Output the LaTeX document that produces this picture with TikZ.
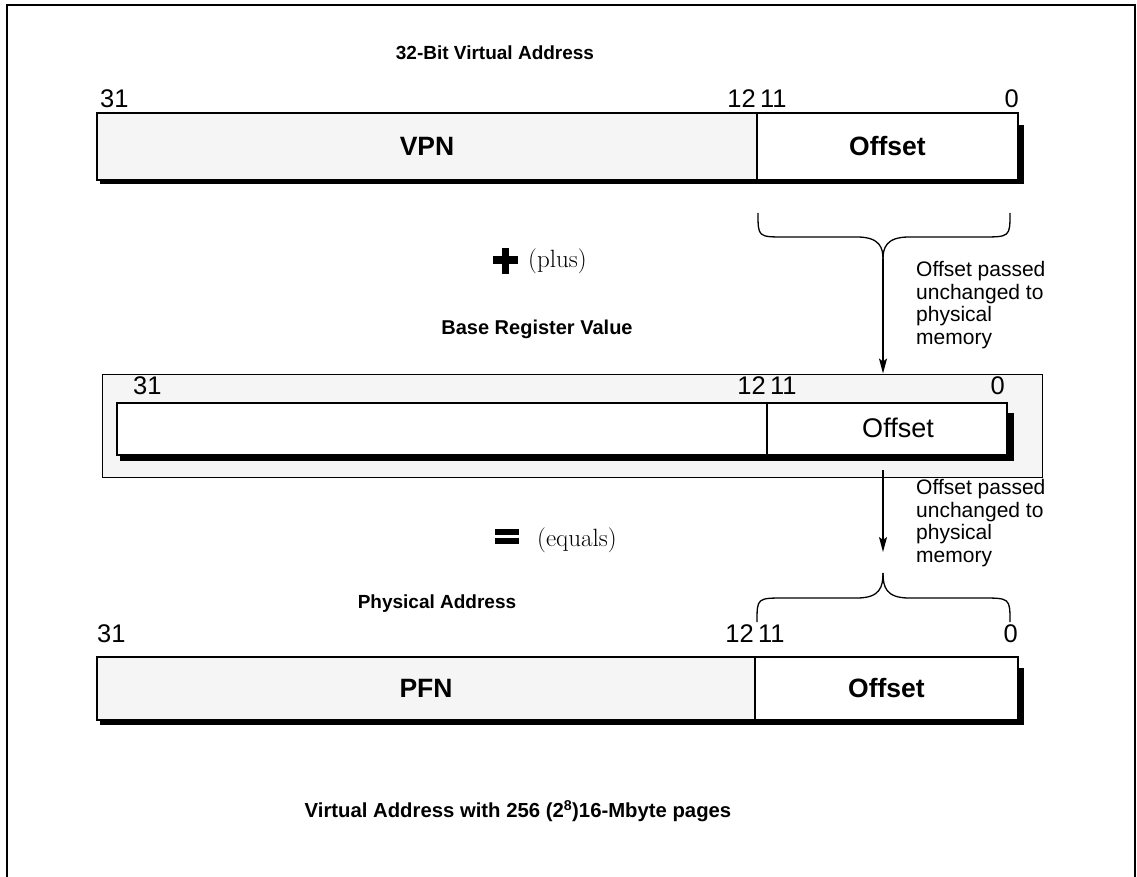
\documentclass[tikz,border=0pt]{standalone}
\usepackage{fontspec}
\newfontfamily\hv{Liberation Sans}
\usetikzlibrary{arrows.meta}

\tikzset{
  field/.style={draw=black, line width=1.1pt, inner sep=0pt, outer sep=0pt,
                font=\hv\bfseries\fontsize{26.5}{31}\selectfont},
  shaded/.style={fill=black!4},
  blank/.style={fill=white},
  plainlabel/.style={font=\hv\fontsize{27}{31}\selectfont},
  bitnum/.style={font=\hv\fontsize{25.5}{29}\selectfont, inner sep=0pt},
  heading/.style={font=\hv\bfseries\fontsize{19}{23}\selectfont, inner sep=0pt},
  note/.style={font=\hv\fontsize{21}{22.7}\selectfont, align=left,
               inner sep=0pt, anchor=north west},
  opword/.style={font=\fontsize{25}{30}\selectfont, inner sep=0pt, anchor=base west},
  brace/.style={line width=1.3pt},
  flow/.style={line width=1.3pt, -{Stealth[length=15pt,width=8pt,inset=3pt]}},
  shadow/.style={fill=black},
  frame/.style={line width=2pt},
}

\begin{document}
\begin{tikzpicture}[x=1pt,y=-1pt]
\useasboundingbox (0,0) rectangle (1137,877);

% page frame, open at the bottom
\draw[frame] (7,877) -- (7,5) -- (1135,5) -- (1135,877);

% ---------- 32-bit virtual address ----------
\node[heading] (vtitle) at (495,53) {32-Bit Virtual Address};
\fill[shadow] (100,125) rectangle (1024,184);
\node[field,shaded,minimum width=660pt,minimum height=67pt] (vpn) at (427,146.5) {VPN};
\node[field,blank,minimum width=261pt,minimum height=67pt] (voff) at (887.5,146.5) {Offset};
\node[bitnum,anchor=base west] (v31) at (100,108) {31};
\node[bitnum,anchor=base] (v1211) at (757,108) {12\,11};
\node[bitnum,anchor=base east] (v0) at (1019,108) {0};

% brace under the offset field
\coordinate (tipA) at (883,259);
\draw[brace] (758,213) .. controls (758,237) .. (785,237) -- (857,237)
  .. controls (880,237) and (883,248) .. (tipA);
\draw[brace] (1010,213) .. controls (1010,237) .. (981,237) -- (909,237)
  .. controls (886,237) and (883,248) .. (tipA);

% plus sign
\fill (493,256) rectangle (518,264);
\fill (502,248) rectangle (509,274);
\node[opword] (plusw) at (528,268) {(plus)};

\node[note] (noteA) at (916,261) {Offset passed\\unchanged to\\physical\\memory};

% ---------- base register ----------
\node[heading,font=\hv\bfseries\fontsize{20}{24}\selectfont] (btitle) at (537,329) {Base Register Value};
\node[draw=black, line width=1pt, fill=black!4, inner sep=0pt,
      minimum width=940pt, minimum height=103pt] (basereg) at (572,425.5) {};
\fill[shadow] (120,413) rectangle (1014,461);
\node[field,blank,minimum width=650pt,minimum height=52pt] (bhigh) at (442,429) {};
\node[field,blank,minimum width=240pt,minimum height=52pt] (boff) at (887,429) {};
\node[plainlabel,inner sep=0pt] (bofflabel) at (898,428) {Offset};
\node[bitnum,anchor=base west] (b31) at (133,394) {31};
\node[bitnum,anchor=base] (b1211) at (767,394) {12\,11};
\node[bitnum,anchor=base east] (b0) at (1005,394) {0};

\draw[flow] (tipA) -- (tipA |- basereg.north);

% equals sign
\fill (495,529) rectangle (519,535);
\fill (495,538) rectangle (519,544);
\node[opword] (equalsw) at (537,546) {(equals)};

\coordinate (startB) at (883,470);
\coordinate (endB) at (883,552);
\draw[flow] (startB) -- (endB);
\node[note] (noteB) at (916,479) {Offset passed\\unchanged to\\physical\\memory};

% brace over the physical offset field
\coordinate (tipB) at (883,573);
\draw[brace] (757,622) .. controls (757,598) .. (785,598) -- (857,598)
  .. controls (880,598) and (883,587) .. (tipB);
\draw[brace] (1010,622) .. controls (1010,598) .. (981,598) -- (909,598)
  .. controls (886,598) and (883,587) .. (tipB);

% ---------- physical address ----------
\node[heading] (ptitle) at (437,604) {Physical Address};
\fill[shadow] (100,668) rectangle (1024,725);
\node[field,shaded,minimum width=658pt,minimum height=63pt] (pfn) at (426,688.5) {PFN};
\node[field,blank,minimum width=263pt,minimum height=63pt] (poff) at (886.5,688.5) {Offset};
\node[bitnum,anchor=base west] (p31) at (97,642) {31};
\node[bitnum,anchor=base] (p1211) at (755,642) {12\,11};
\node[bitnum,anchor=base east] (p0) at (1018,642) {0};

% caption
\node[heading,font=\hv\bfseries\fontsize{20.3}{24}\selectfont] (caption) at (518,811)
  {Virtual Address with 256 (2\textsuperscript{8})16-Mbyte pages};
\end{tikzpicture}
\end{document}
